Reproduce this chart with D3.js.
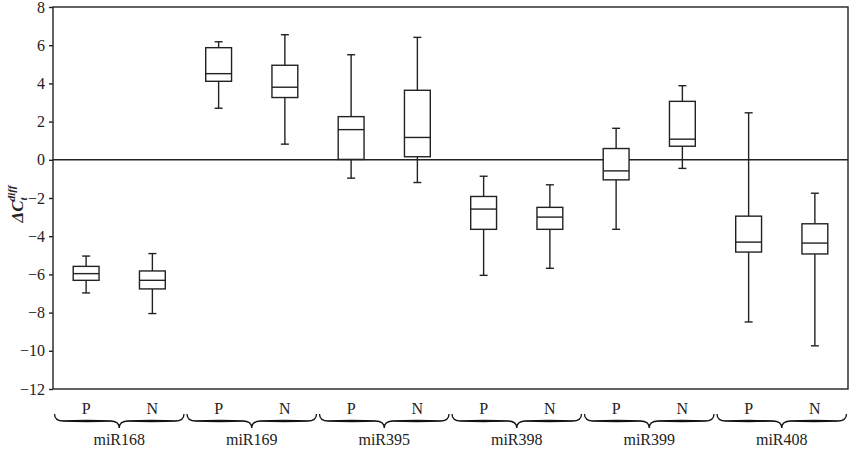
<!DOCTYPE html>
<html>
<head>
<meta charset="utf-8">
<script src="https://cdn.jsdelivr.net/npm/d3@7"></script>
<style>
  body { margin: 0; background: #fff; }
  svg { display: block; font-family: "Liberation Serif", "Times New Roman", serif; }
  svg text { font-family: "Liberation Serif", "Times New Roman", serif; }
</style>
</head>
<body>
<div id="chart"></div>
<script>
// miRNA groups and the two conditions in each
const groups = ["miR168", "miR169", "miR395", "miR398", "miR399", "miR408"];
const conditions = ["P", "N"];
// box statistics, one entry per box, in order miR168 P, miR168 N, miR169 P ...
const whiskerHigh = [-5.04, -4.91, 6.18, 6.55, 5.50, 6.41, -0.86, -1.31, 1.65, 3.88, 2.46, -1.75];
const q3Values = [-5.58, -5.82, 5.87, 4.95, 2.26, 3.64, -1.92, -2.49, 0.59, 3.06, -2.95, -3.35];
const medians = [-5.96, -6.31, 4.51, 3.80, 1.58, 1.17, -2.58, -3.00, -0.58, 1.08, -4.31, -4.36];
const q1Values = [-6.31, -6.76, 4.11, 3.26, 0.02, 0.16, -3.64, -3.64, -1.05, 0.71, -4.83, -4.93];
const whiskerLow = [-6.97, -8.05, 2.70, 0.82, -0.96, -1.19, -6.05, -5.68, -3.64, -0.45, -8.49, -9.74];
const yTicks = [-12, -10, -8, -6, -4, -2, 0, 2, 4, 6, 8];

const width = 851;
const height = 449;
const margin = {t: 7, b: 60, l: 53, r: 3};

const boxes = [];
groups.forEach((g, gi) => {
    conditions.forEach((c, ci) => {
        const i = gi * conditions.length + ci;
        boxes.push({key: g + "-" + c, group: g, cond: c,
            hi: whiskerHigh[i], q3: q3Values[i], med: medians[i], q1: q1Values[i], lo: whiskerLow[i]});
    });
});

const svg = d3.select("#chart")
    .append("svg")
    .attr("width", width)
    .attr("height", height)
    .attr("viewBox", [0, 0, width, height]);

const x = d3.scaleBand()
    .domain(boxes.map(d => d.key))
    .range([margin.l, width - margin.r]);

const xGroup = d3.scaleBand()
    .domain(groups)
    .range([margin.l, width - margin.r]);

const y = d3.scaleLinear()
    .domain([-12, 8])
    .range([height - margin.b, margin.t]);

const ink = "#222";

// frame
svg.append("rect")
    .attr("x", margin.l)
    .attr("y", margin.t)
    .attr("width", width - margin.r - margin.l)
    .attr("height", height - margin.b - margin.t)
    .attr("fill", "none")
    .attr("stroke", ink)
    .attr("stroke-width", 1.4);

// Y axis
const yAxis = svg.append("g")
    .attr("transform", `translate(${margin.l},0)`)
    .call(d3.axisLeft(y).tickValues(yTicks).tickSize(4).tickPadding(4));
yAxis.attr("font-family", null).attr("font-size", null);
yAxis.select(".domain").remove();
yAxis.selectAll("line").attr("stroke", ink).attr("stroke-width", 1.4);
yAxis.selectAll("text")
    .attr("fill", ink)
    .style("font-size", "16px");

// zero line
svg.append("line")
    .attr("x1", margin.l).attr("x2", width - margin.r)
    .attr("y1", y(0)).attr("y2", y(0))
    .attr("stroke", ink)
    .attr("stroke-width", 1.4);

// Y label
const yLab = svg.append("text")
    .attr("transform", `translate(23, ${204}) rotate(-90)`)
    .attr("text-anchor", "middle")
    .attr("fill", ink)
    .style("font-size", "17px")
    .style("font-weight", "bold")
    .style("font-style", "italic");
yLab.append("tspan").text("\u0394C");
yLab.append("tspan").attr("dy", 4).style("font-size", "11px").text("t");
yLab.append("tspan").attr("dy", -12).attr("dx", -4).style("font-size", "11px").text("diff");

// boxes
const boxW = x.bandwidth() * 0.39;
const capW = 8;
const bx = svg.append("g")
    .attr("stroke", ink)
    .attr("stroke-width", 1.4)
    .attr("fill", "none");

boxes.forEach(d => {
    const cx = x(d.key) + x.bandwidth() / 2;
    // whiskers
    bx.append("line").attr("x1", cx).attr("x2", cx).attr("y1", y(d.hi)).attr("y2", y(d.q3));
    bx.append("line").attr("x1", cx).attr("x2", cx).attr("y1", y(d.q1)).attr("y2", y(d.lo));
    bx.append("line").attr("x1", cx - capW / 2).attr("x2", cx + capW / 2).attr("y1", y(d.hi)).attr("y2", y(d.hi));
    bx.append("line").attr("x1", cx - capW / 2).attr("x2", cx + capW / 2).attr("y1", y(d.lo)).attr("y2", y(d.lo));
    // box
    bx.append("rect")
        .attr("x", cx - boxW / 2)
        .attr("y", y(d.q3))
        .attr("width", boxW)
        .attr("height", y(d.q1) - y(d.q3))
        .attr("fill", "#fff");
    bx.append("line").attr("x1", cx - boxW / 2).attr("x2", cx + boxW / 2).attr("y1", y(d.med)).attr("y2", y(d.med));
});

// P / N labels
svg.append("g")
    .selectAll("text")
    .data(boxes)
    .join("text")
    .attr("x", d => x(d.key) + x.bandwidth() / 2)
    .attr("y", 414)
    .attr("text-anchor", "middle")
    .attr("fill", ink)
    .style("font-size", "16px")
    .text(d => d.cond);

// braces
const braceTop = 414;
const braceH = 14;
function bracePath(x0, x1) {
    const xm = (x0 + x1) / 2;
    const a = braceH / 2;
    const b = 9;
    return `M${x0},${braceTop} Q${x0},${braceTop + a} ${x0 + b},${braceTop + a}` +
        ` L${xm - b},${braceTop + a} Q${xm},${braceTop + a} ${xm},${braceTop + braceH}` +
        ` Q${xm},${braceTop + a} ${xm + b},${braceTop + a}` +
        ` L${x1 - b},${braceTop + a} Q${x1},${braceTop + a} ${x1},${braceTop}`;
}
// thicker middle of each half, like a printed brace
function lensPath(xa, xb) {
    const ym = braceTop + braceH / 2;
    const xc = (xa + xb) / 2;
    return `M${xa},${ym} Q${xc},${ym - 2.4} ${xb},${ym} Q${xc},${ym + 2.4} ${xa},${ym} Z`;
}
const br = svg.append("g");
groups.forEach(g => {
    const x0 = xGroup(g) + 1.5;
    const x1 = xGroup(g) + xGroup.bandwidth() - 1.5;
    const xm = (x0 + x1) / 2;
    br.append("path")
        .attr("d", bracePath(x0, x1))
        .attr("fill", "none")
        .attr("stroke", "#111")
        .attr("stroke-width", 1.3);
    br.append("path").attr("d", lensPath(x0 + 6, xm - 6)).attr("fill", "#111");
    br.append("path").attr("d", lensPath(xm + 6, x1 - 6)).attr("fill", "#111");
});

// group labels
svg.append("g")
    .selectAll("text")
    .data(groups)
    .join("text")
    .attr("x", g => xGroup(g) + xGroup.bandwidth() / 2)
    .attr("y", 445)
    .attr("text-anchor", "middle")
    .attr("fill", ink)
    .style("font-size", "16px")
    .text(g => g);
</script>
</body>
</html>
